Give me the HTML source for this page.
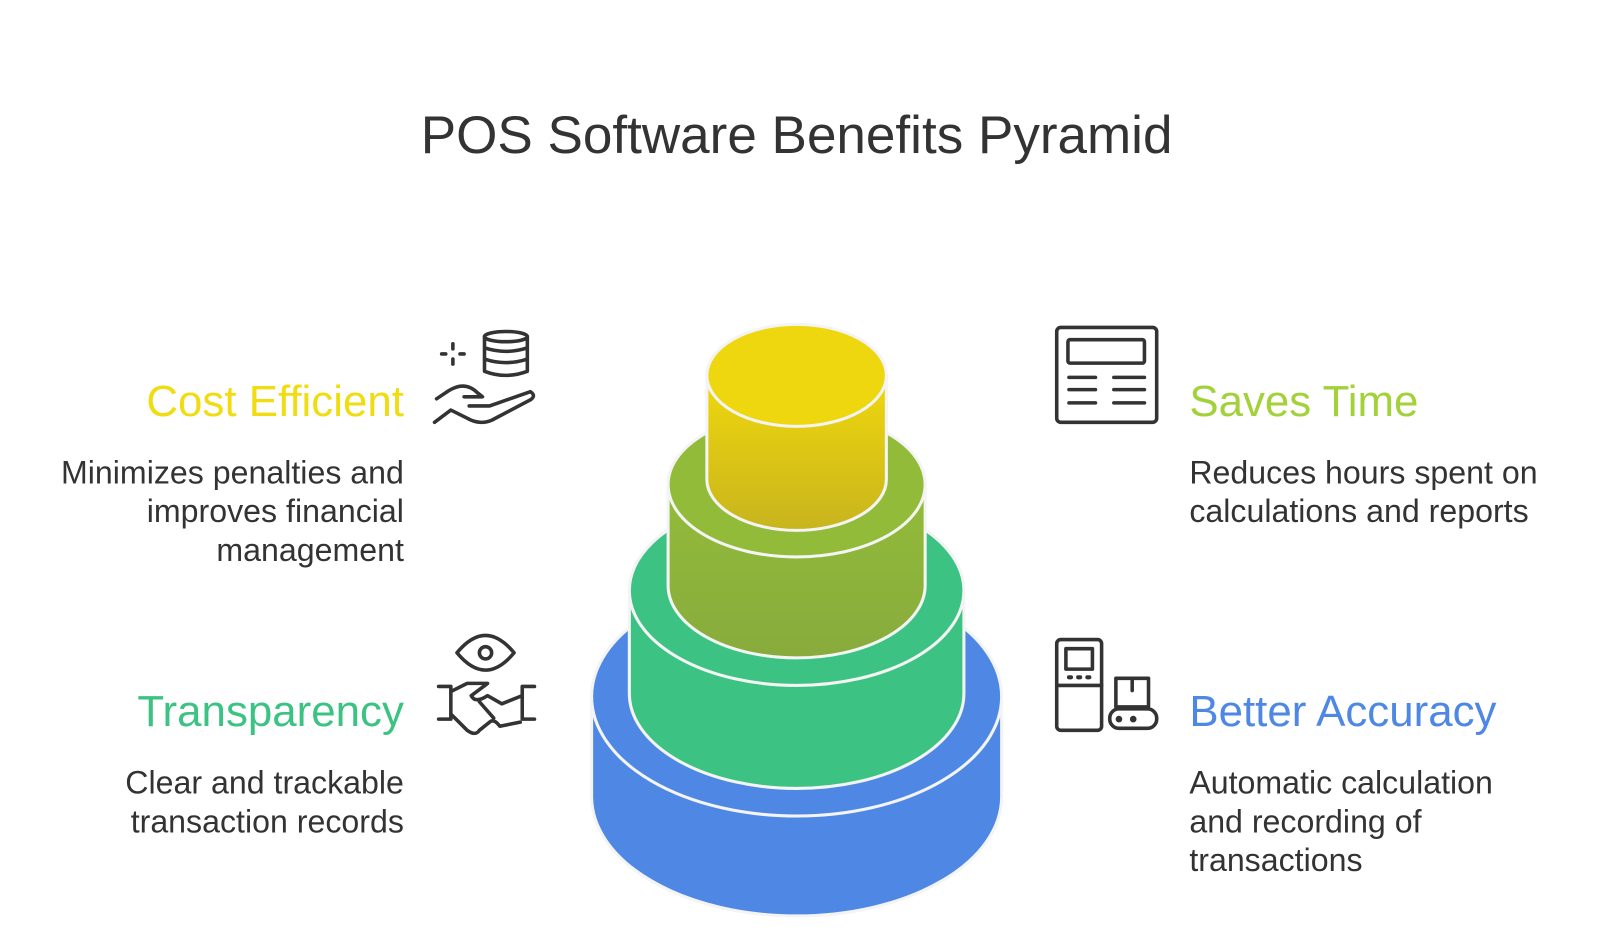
<!DOCTYPE html>
<html><head><meta charset="utf-8"><style>
body{margin:0;background:#fff;width:1600px;height:951px;overflow:hidden;position:relative;font-family:"Liberation Sans",sans-serif;color:#333}
#w{position:absolute;left:0;top:0;width:1562px;height:928px;transform:scale(1.02);transform-origin:0 0}
.t{position:absolute;white-space:nowrap}
.h{font-size:43px;line-height:48px}
.b{font-size:31.5px;line-height:38px}
.r{text-align:right}
</style></head><body><div id="w">
<div class="t" style="left:0;width:1562px;text-align:center;top:103px;font-size:52px;line-height:60px;color:#333">POS Software Benefits Pyramid</div>

<div class="t h r" style="right:1166px;top:370px;color:#f0dc10">Cost Efficient</div>
<div class="t b r" style="right:1166px;top:444px">Minimizes penalties and<br>improves financial<br>management</div>
<div class="t h r" style="right:1166px;top:674px;color:#3cc383">Transparency</div>
<div class="t b r" style="right:1166px;top:748px">Clear and trackable<br>transaction records</div>

<div class="t h" style="left:1166px;top:370px;color:#a3d13a">Saves Time</div>
<div class="t b" style="left:1166px;top:444px">Reduces hours spent on<br>calculations and reports</div>
<div class="t h" style="left:1166px;top:674px;color:#4e88e4">Better Accuracy</div>
<div class="t b" style="left:1166px;top:748px">Automatic calculation<br>and recording of<br>transactions</div>

<svg width="1562" height="928" style="position:absolute;left:0;top:0">
<defs>
<linearGradient id="gy" x1="0" y1="0" x2="0" y2="1"><stop offset="0" stop-color="#f0d80c"/><stop offset="1" stop-color="#c8b41e"/></linearGradient>
<linearGradient id="go" x1="0" y1="0" x2="0" y2="1"><stop offset="0" stop-color="#93bc3a"/><stop offset="1" stop-color="#88ab3c"/></linearGradient>
</defs>
<g stroke="#f4f4f4" stroke-width="3">
<path d="M580 683 V781 A201 117 0 0 0 982 781 V683 Z" fill="#4e88e4"/>
<ellipse cx="781" cy="683" rx="201" ry="117" fill="#4e88e4"/>
<path d="M617 579 V680 A164 93 0 0 0 945 680 V579 Z" fill="#3cc383"/>
<ellipse cx="781" cy="579" rx="164" ry="93" fill="#3cc383"/>
<path d="M655 475 V574 A126 71 0 0 0 907 574 V475 Z" fill="url(#go)"/>
<ellipse cx="781" cy="475" rx="126" ry="71" fill="#92bb3a"/>
<path d="M693 368 V470 A88 50 0 0 0 869 470 V368 Z" fill="url(#gy)"/>
<ellipse cx="781" cy="368" rx="88" ry="50" fill="#eed70e"/>
</g>
<g fill="none" stroke="#333" stroke-width="3.5" stroke-linecap="round" stroke-linejoin="round">
<path d="M444 337v5M444 352v5M433 347h4M451 347h4"/>
<ellipse cx="496" cy="330" rx="21" ry="5"/>
<path d="M475 330v34q21 8 42 0v-34M475 341q21 7 42 0M475 352q21 7 42 0"/>
<path d="M428 391l12-8q16-10 28 2l5 4h-18M460 398h20l40-14q6 4 0 8l-38 20q-12 5-24-2l-16-8-16 12"/>
<path d="M448 640q28-34 56 0q-28 34-56 0z"/><circle cx="476" cy="640" r="6"/>
<path d="M430 673h12v32h-12M524 673h-12v32h12M442 678l16-8 20 0-16 12q4 8 16 0l14 8 20-8M442 700l16 16q8 6 12 0l10-8q4-4 10 4l20-4M470 688l14 16"/>
<rect x="1036" y="321" width="98" height="93" rx="4"/>
<rect x="1047" y="333" width="75" height="23" rx="2"/>
<path d="M1048 370h26M1092 370h30M1048 382h26M1092 382h30M1048 395h26M1092 395h30"/>
<rect x="1036" y="627" width="44" height="89" rx="4"/>
<rect x="1045" y="636" width="26" height="20"/>
<path d="M1036 672h44"/>
<path d="M1048 664h2M1057 664h2M1066 664h2" stroke-width="4"/>
<rect x="1094" y="665" width="32" height="28"/>
<path d="M1110 665v12"/>
<rect x="1088" y="695" width="46" height="19" rx="9"/>
<circle cx="1097" cy="705" r="1.5" fill="#333"/><circle cx="1111" cy="705" r="1.5" fill="#333"/>
</g>
</svg>
</div></body></html>
